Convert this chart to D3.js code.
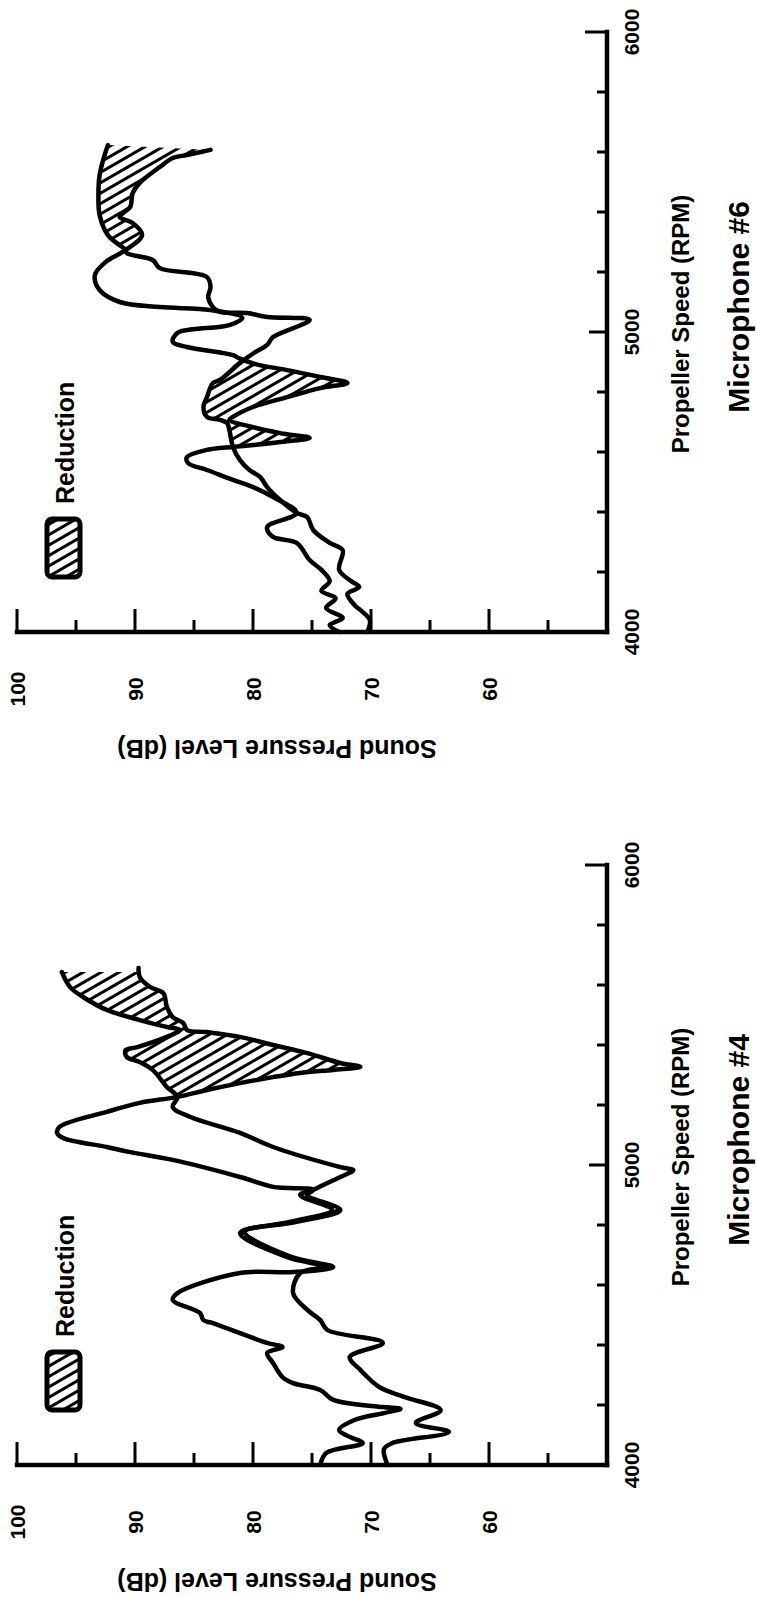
<!DOCTYPE html>
<html>
<head>
<meta charset="utf-8">
<script src="https://cdn.jsdelivr.net/npm/d3@7"></script>
<style>
  html, body { margin: 0; padding: 0; background: #fff; }
  svg { display: block; }
  text { font-family: "Liberation Sans", Arial, sans-serif; font-weight: bold; fill: #000; }
</style>
</head>
<body>
<svg id="chart" width="758" height="1597"></svg>
<script>
// Axis ticks
const rpmTicks = [4000, 5000, 6000];
const rpmMinorTicks = d3.range(4000, 6001, 200);
const dbTicks = [100, 90, 80, 70, 60];
const dbMinorTicks = d3.range(50, 101, 5);

// Sound pressure level (dB) against propeller speed (RPM)
const mic6Baseline = [
  [4000,70.3],[4040,70.1],[4070,70.8],[4090,71.4],[4127,72.0],[4150,71.0],[4170,71.7],[4207,72.7],
  [4273,72.4],[4297,73.5],[4340,74.9],[4383,75.4],[4397,76.3],[4440,77.7],[4483,78.8],[4517,79.4],
  [4540,80.3],[4573,81.1],[4617,81.7],[4673,82.0],[4697,82.2],[4707,82.8],[4717,83.9],[4750,84.2],
  [4783,83.9],[4830,83.4],[4840,82.8],[4897,81.1],[4933,79.8],[4957,78.8],[4983,78.3],[5040,75.2],
  [5050,78.8],[5063,80.5],[5067,82.8],[5083,83.4],[5117,83.8],[5150,83.6],[5183,83.9],[5213,87.9],
  [5240,88.5],[5263,90.7],[5273,90.8],[5323,92.3],[5390,93.0],[5457,93.1],[5523,93.0],[5573,92.7],
  [5623,92.3]
];
const mic6Treated = [
  [4000,72.7],[4023,73.5],[4047,72.4],[4080,73.8],[4113,73.0],[4137,74.2],[4170,73.5],[4207,74.2],
  [4240,75.2],[4297,76.3],[4317,78.3],[4350,78.8],[4397,76.3],[4450,78.3],[4483,80.0],[4507,81.7],
  [4540,83.9],[4563,85.5],[4583,85.6],[4607,83.9],[4617,81.7],[4623,80.0],[4633,77.7],[4647,75.2],
  [4663,77.7],[4683,80.0],[4707,82.0],[4717,81.7],[4750,80.0],[4783,77.1],[4813,74.3],[4830,72.0],
  [4850,74.3],[4873,77.1],[4893,79.8],[4913,81.2],[4923,81.7],[4950,85.6],[4967,86.8],[4997,86.4],
  [5023,82.0],[5047,80.9],[5073,83.6],[5083,87.9],[5100,91.3],[5140,93.0],[5190,93.4],[5233,92.5],
  [5273,90.8],[5323,89.4],[5363,90.2],[5383,91.3],[5397,91.0],[5417,90.4],[5463,90.2],[5497,89.6],
  [5550,87.9],[5580,86.8],[5590,85.6],[5607,83.6]
];
const mic4Baseline = [
  [4000,68.6],[4053,68.9],[4073,68.2],[4110,63.4],[4140,66.2],[4183,64.1],[4227,67.2],[4260,69.3],
  [4317,70.9],[4360,71.8],[4407,69.0],[4450,73.7],[4483,74.3],[4517,75.4],[4573,76.6],[4640,76.0],
  [4660,73.9],[4693,77.1],[4773,81.1],[4810,76.9],[4850,73.3],[4900,76.0],[4917,74.9],[4940,73.7],
  [4960,72.6],[4983,71.5],[4993,72.6],[5060,78.3],[5107,81.1],[5160,85.3],[5193,86.8],[5227,86.4],
  [5260,87.3],[5317,88.5],[5343,89.6],[5360,90.7],[5383,90.8],[5393,89.8],[5427,87.3],[5450,86.2],
  [5460,87.3],[5483,89.6],[5517,92.4],[5560,94.4],[5593,95.5],[5643,96.2]
];
const mic4Treated = [
  [4000,74.3],[4040,73.8],[4073,70.7],[4097,72.0],[4117,72.7],[4150,71.4],[4173,68.9],[4187,67.5],
  [4193,69.0],[4217,73.2],[4250,74.3],[4273,76.6],[4293,77.5],[4340,78.3],[4373,78.8],[4393,77.5],
  [4407,78.8],[4473,83.4],[4483,84.2],[4507,84.5],[4550,86.8],[4573,86.4],[4640,81.1],[4643,76.6],
  [4660,73.2],[4693,76.7],[4777,80.7],[4810,76.4],[4850,72.6],[4900,75.4],[4917,74.9],[4927,78.3],
  [4960,81.1],[5017,86.8],[5043,90.4],[5060,92.4],[5090,96.1],[5107,96.6],[5127,96.4],[5177,92.4],
  [5207,89.6],[5227,86.4],[5250,83.9],[5273,81.1],[5293,78.3],[5307,76.0],[5317,73.2],[5327,70.9],
  [5340,72.6],[5373,75.4],[5400,78.3],[5427,81.1],[5443,83.9],[5450,85.6],[5473,85.9],[5493,86.8],
  [5527,87.3],[5573,87.6],[5593,88.7],[5627,89.6],[5657,89.7]
];

// Page is a landscape figure turned a quarter turn counter-clockwise.
const PAGE_W = 758, PAGE_H = 1597;
const svg = d3.select("#chart");
svg.append("rect").attr("width", PAGE_W).attr("height", PAGE_H).attr("fill", "#fff");

const defs = svg.append("defs");
const hatch = defs.append("pattern")
  .attr("id", "hatch")
  .attr("patternUnits", "userSpaceOnUse")
  .attr("width", 9).attr("height", 9)
  .attr("patternTransform", "rotate(60)");
hatch.append("rect").attr("width", 9).attr("height", 9).attr("fill", "#fff");
hatch.append("line").attr("x1", 0).attr("x2", 9).attr("y1", 4.5).attr("y2", 4.5)
  .attr("stroke", "#000").attr("stroke-width", 3);

// landscape frame: horizontal = along page height, vertical = along page width
const land = svg.append("g").attr("transform", `translate(0,${PAGE_H}) rotate(-90)`);

const AXIS_V = 607;       // position of the RPM axis line
const y = d3.scaleLinear().domain([50, 100]).range([AXIS_V, 17]);
const smooth = d3.curveCatmullRom.alpha(0.5);

const panels = [
  { key: "m4", title: "Microphone #4", base: mic4Baseline, treated: mic4Treated, start: 132 },
  { key: "m6", title: "Microphone #6", base: mic6Baseline, treated: mic6Treated, start: 965 }
];

panels.forEach(p => {
  const x = d3.scaleLinear().domain([4000, 6000]).range([p.start, p.start + 600]);
  const g = land.append("g");

  // region where the baseline lies above a given level
  const below = d3.area().curve(smooth).x(d => x(d[0])).y0(720).y1(d => y(d[1]));
  defs.append("clipPath").attr("id", "clip-" + p.key)
    .append("path").attr("d", below(p.base));

  const line = d3.line().curve(smooth).x(d => x(d[0])).y(d => y(d[1]));

  // band between the two traces, kept only where the baseline is higher
  const band = line(p.base) + "L" + line(p.treated.slice().reverse()).slice(1) + "Z";
  g.append("path")
    .attr("d", band)
    .attr("fill", "url(#hatch)")
    .attr("clip-path", `url(#clip-${p.key})`);

  [p.base, p.treated].forEach(s => {
    g.append("path").attr("d", line(s))
      .attr("fill", "none").attr("stroke", "#000")
      .attr("stroke-width", 4.5).attr("stroke-linejoin", "round").attr("stroke-linecap", "round");
  });

  // axes
  const x0 = x(4000);
  g.append("line").attr("x1", x0).attr("x2", x(6000)).attr("y1", AXIS_V).attr("y2", AXIS_V)
    .attr("stroke", "#000").attr("stroke-width", 4.5).attr("stroke-linecap", "square");
  g.append("line").attr("x1", x0).attr("x2", x0).attr("y1", y(50)).attr("y2", y(100))
    .attr("stroke", "#000").attr("stroke-width", 4.5).attr("stroke-linecap", "square");

  dbMinorTicks.filter(d => d > 50).forEach(d => {
    const len = d % 10 === 0 ? 23 : 12;
    g.append("line").attr("x1", x0).attr("x2", x0 + len).attr("y1", y(d)).attr("y2", y(d))
      .attr("stroke", "#000").attr("stroke-width", 3);
  });
  rpmMinorTicks.filter(r => r > 4000).forEach(r => {
    const len = r === 6000 ? 22 : (r === 5000 ? 18 : 10);
    g.append("line").attr("x1", x(r)).attr("x2", x(r)).attr("y1", AXIS_V).attr("y2", AXIS_V - len)
      .attr("stroke", "#000").attr("stroke-width", 3);
  });

  g.selectAll(".dbl").data(dbTicks).enter().append("text")
    .attr("x", x0 - 57).attr("y", d => y(d))
    .attr("text-anchor", "middle").attr("dominant-baseline", "central")
    .attr("font-size", 21).text(d => d);
  g.selectAll(".rpml").data(rpmTicks).enter().append("text")
    .attr("x", d => x(d)).attr("y", AXIS_V + 24)
    .attr("text-anchor", "middle").attr("dominant-baseline", "central")
    .attr("font-size", 21).text(d => d);

  g.append("text")
    .attr("transform", `translate(${x0 - 117},277) rotate(-90)`)
    .attr("text-anchor", "middle").attr("dominant-baseline", "central")
    .attr("font-size", 25).text("Sound Pressure Level (dB)");
  g.append("text")
    .attr("x", x(5000) + 8).attr("y", 680)
    .attr("text-anchor", "middle").attr("dominant-baseline", "central")
    .attr("font-size", 24).text("Propeller Speed (RPM)");
  g.append("text")
    .attr("x", x(5000) + 25).attr("y", 738)
    .attr("text-anchor", "middle").attr("dominant-baseline", "central")
    .attr("font-size", 30).text(p.title);

  // legend
  g.append("rect")
    .attr("x", x0 + 55).attr("y", 47).attr("width", 58).attr("height", 33).attr("rx", 5)
    .attr("fill", "url(#hatch)").attr("stroke", "#000").attr("stroke-width", 5);
  g.append("text")
    .attr("x", x0 + 128).attr("y", 65)
    .attr("dominant-baseline", "central")
    .attr("font-size", 25).text("Reduction");
});
</script>
</body>
</html>
